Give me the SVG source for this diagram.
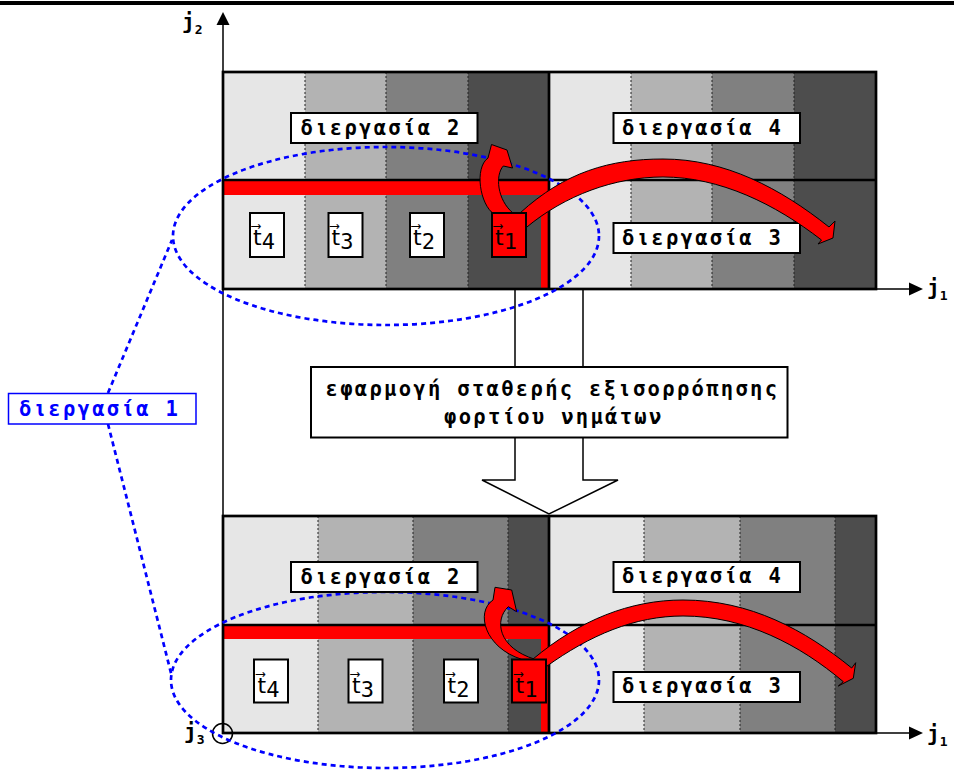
<svg xmlns="http://www.w3.org/2000/svg" width="954" height="770" viewBox="0 0 954 770">
<defs>
<style>
.c1{fill:#e6e6e6}.c2{fill:#b3b3b3}.c3{fill:#808080}.c4{fill:#4d4d4d}
.dot{stroke:#222;stroke-width:1;stroke-dasharray:2 2;fill:none}
.frame{fill:none;stroke:#000;stroke-width:2.7}
.thick{stroke:#000;stroke-width:2.7;fill:none}
.red{fill:#ff0000}
.ax{stroke:#000;stroke-width:1.5;fill:none}
.ell{fill:none;stroke:#0000ff;stroke-width:2.7;stroke-dasharray:5 4}
.lbox{fill:#fff;stroke:#000;stroke-width:2}
.lbl{font-family:"DejaVu Sans Mono","Liberation Mono",monospace;font-weight:bold;font-size:20.5px;letter-spacing:2.3px;fill:#000}
.tb{fill:#fff;stroke:#000;stroke-width:2}
.tr{fill:#ff0000;stroke:#000;stroke-width:2}
.tv{font-family:"DejaVu Sans Mono","DejaVu Sans",monospace;font-size:22px;fill:#000}
.arr{fill:#ff0000;stroke:#000;stroke-width:1}
.jl{font-family:"DejaVu Sans Mono",monospace;font-size:21px;font-weight:bold;fill:#000}
.js{font-size:13px}
</style>
</defs>
<rect x="0" y="1" width="954" height="4" fill="#000"/>

<!-- top grid -->
<g id="grid-top">
<rect class="c1" x="223" y="72" width="82" height="217"/>
<rect class="c2" x="305" y="72" width="81" height="217"/>
<rect class="c3" x="386" y="72" width="82" height="217"/>
<rect class="c4" x="468" y="72" width="81" height="217"/>
<rect class="c1" x="549" y="72" width="82" height="217"/>
<rect class="c2" x="631" y="72" width="81" height="217"/>
<rect class="c3" x="712" y="72" width="82" height="217"/>
<rect class="c4" x="794" y="72" width="82" height="217"/>
<path class="dot" d="M305,72V289M386,72V289M468,72V289M631,72V289M712,72V289M794,72V289"/>
<rect class="red" x="223" y="181" width="325" height="14"/>
<rect class="red" x="541" y="181" width="7" height="108"/>
<rect class="frame" x="223" y="72" width="653" height="217"/>
<path class="thick" d="M223,180H876M549,72V289"/>
</g>

<!-- bottom grid -->
<g id="grid-bottom">
<rect class="c1" x="223" y="516" width="95" height="217"/>
<rect class="c2" x="318" y="516" width="95" height="217"/>
<rect class="c3" x="413" y="516" width="95" height="217"/>
<rect class="c4" x="508" y="516" width="41" height="217"/>
<rect class="c1" x="549" y="516" width="95" height="217"/>
<rect class="c2" x="644" y="516" width="96" height="217"/>
<rect class="c3" x="740" y="516" width="95" height="217"/>
<rect class="c4" x="835" y="516" width="41" height="217"/>
<path class="dot" d="M318,516V733M413,516V733M508,516V733M644,516V733M740,516V733M835,516V733"/>
<rect class="red" x="223" y="626" width="325" height="13"/>
<rect class="red" x="541" y="626" width="7" height="107"/>
<rect class="frame" x="223" y="516" width="653" height="217"/>
<path class="thick" d="M223,625H876M549,516V733"/>
</g>

<!-- axes -->
<g id="axes">
<path class="ax" d="M223,24V733M876,289H912M223,733H912"/>
<path d="M223,12L216.5,25H229.5Z" fill="#000"/>
<path d="M923,289L909,282.5V295.5Z" fill="#000"/>
<path d="M923,733L909,726.5V739.5Z" fill="#000"/>
<circle cx="222.5" cy="733.5" r="10" fill="none" stroke="#000" stroke-width="1.5"/>
<text class="jl" x="182" y="29">j<tspan class="js" dy="5">2</tspan></text>
<text class="jl" x="927" y="295">j<tspan class="js" dy="5">1</tspan></text>
<text class="jl" x="927" y="741">j<tspan class="js" dy="5">1</tspan></text>
<text class="jl" x="184" y="739">j<tspan class="js" dy="5">3</tspan></text>
</g>

<!-- blue ellipses and links -->
<g id="process1">
<ellipse class="ell" cx="386" cy="236" rx="213" ry="89"/>
<ellipse class="ell" cx="385" cy="680" rx="214" ry="88"/>
<path class="ell" d="M108,393L172,240M108,424L172,677"/>
<rect x="8.5" y="393.5" width="187.5" height="30.5" fill="#fff" stroke="#0000ff" stroke-width="1.5"/>
<text class="lbl" x="19" y="416" style="fill:#0000ff">διεργασία 1</text>
</g>

<!-- labels top -->
<g id="labels-top">
<rect class="lbox" x="291" y="113" width="186.5" height="30"/>
<text class="lbl" x="300.5" y="135">διεργασία 2</text>
<rect class="lbox" x="613.5" y="113" width="186.5" height="30"/>
<text class="lbl" x="622" y="134.5">διεργασία 4</text>
<rect class="lbox" x="613.5" y="223" width="186.5" height="30"/>
<text class="lbl" x="622" y="244.5">διεργασία 3</text>
</g>

<!-- labels bottom -->
<g id="labels-bottom">
<rect class="lbox" x="291" y="562" width="186.5" height="30"/>
<text class="lbl" x="300.5" y="583.5">διεργασία 2</text>
<rect class="lbox" x="613.5" y="562" width="186.5" height="30"/>
<text class="lbl" x="622" y="583">διεργασία 4</text>
<rect class="lbox" x="613.5" y="672" width="186.5" height="30"/>
<text class="lbl" x="622" y="693">διεργασία 3</text>
</g>

<!-- connectors: red migration arrows and hollow arrow -->
<g id="connectors">
<path class="arr" d="M494,214C480,205 474,168 488,158L491.5,144.5L507,150L512.5,168L503.3,166C495,175 497,200 513.3,213.3Z"/>
<path class="arr" d="M520,213C565,172 610,159 663,159C725,159 780,188 829,227L835,221L833,238L818,244L821.5,240C775,204 720,177 663,177C615,177 565,195 525.7,228Z"/>
<path class="arr" d="M521.7,659.3C485,648 475,612 493,600L495,587.3L511.7,590L516.7,611.7L508.3,606.7C494,620 498,648 535,659.3Z"/>
<path class="arr" d="M533,659C580,620 630,600 683,600C750,600 805,630 851.7,668L855.7,662.7L853.3,678.3L838.3,686L843.3,681.7C800,645 745,616 683,616C635,616 590,635 545.7,667Z"/>
<path d="M515,289V367M583,289V367" stroke="#000" stroke-width="1.5" fill="none"/>
<path d="M515,437.7V480H482L549,514L618,480H583V437.7" fill="#fff" stroke="#000" stroke-width="1.5"/>
</g>

<!-- middle box -->
<g id="balance">
<rect x="311" y="367" width="476.5" height="70.5" fill="#fff" stroke="#000" stroke-width="2"/>
<text class="lbl" x="325.5" y="396">εφαρμογή σταθερής εξισορρόπησης</text>
<text class="lbl" x="444" y="424">φορτίου νημάτων</text>
</g>

<!-- thread boxes top -->
<g id="threads-top">
<rect class="tb" x="250" y="213" width="34" height="44"/>
<text class="tv" x="253" y="245">t&#x20D7;<tspan dy="4">4</tspan></text>
<rect class="tb" x="328.5" y="213" width="34" height="44"/>
<text class="tv" x="331.5" y="245">t&#x20D7;<tspan dy="4">3</tspan></text>
<rect class="tb" x="410" y="213" width="34" height="44"/>
<text class="tv" x="413" y="245">t&#x20D7;<tspan dy="4">2</tspan></text>
<rect class="tr" x="492" y="213" width="34" height="44"/>
<text class="tv" x="495" y="245">t&#x20D7;<tspan dy="4">1</tspan></text>
</g>

<!-- thread boxes bottom -->
<g id="threads-bottom">
<rect class="tb" x="254" y="659.5" width="34" height="43"/>
<text class="tv" x="257.5" y="693">t&#x20D7;<tspan dy="4">4</tspan></text>
<rect class="tb" x="348.5" y="659.5" width="34" height="43"/>
<text class="tv" x="352" y="693">t&#x20D7;<tspan dy="4">3</tspan></text>
<rect class="tb" x="444" y="659.5" width="34" height="43"/>
<text class="tv" x="447.5" y="693">t&#x20D7;<tspan dy="4">2</tspan></text>
<rect class="tr" x="512" y="659.5" width="34" height="43"/>
<text class="tv" x="515.5" y="693">t&#x20D7;<tspan dy="4">1</tspan></text>
</g>
</svg>
